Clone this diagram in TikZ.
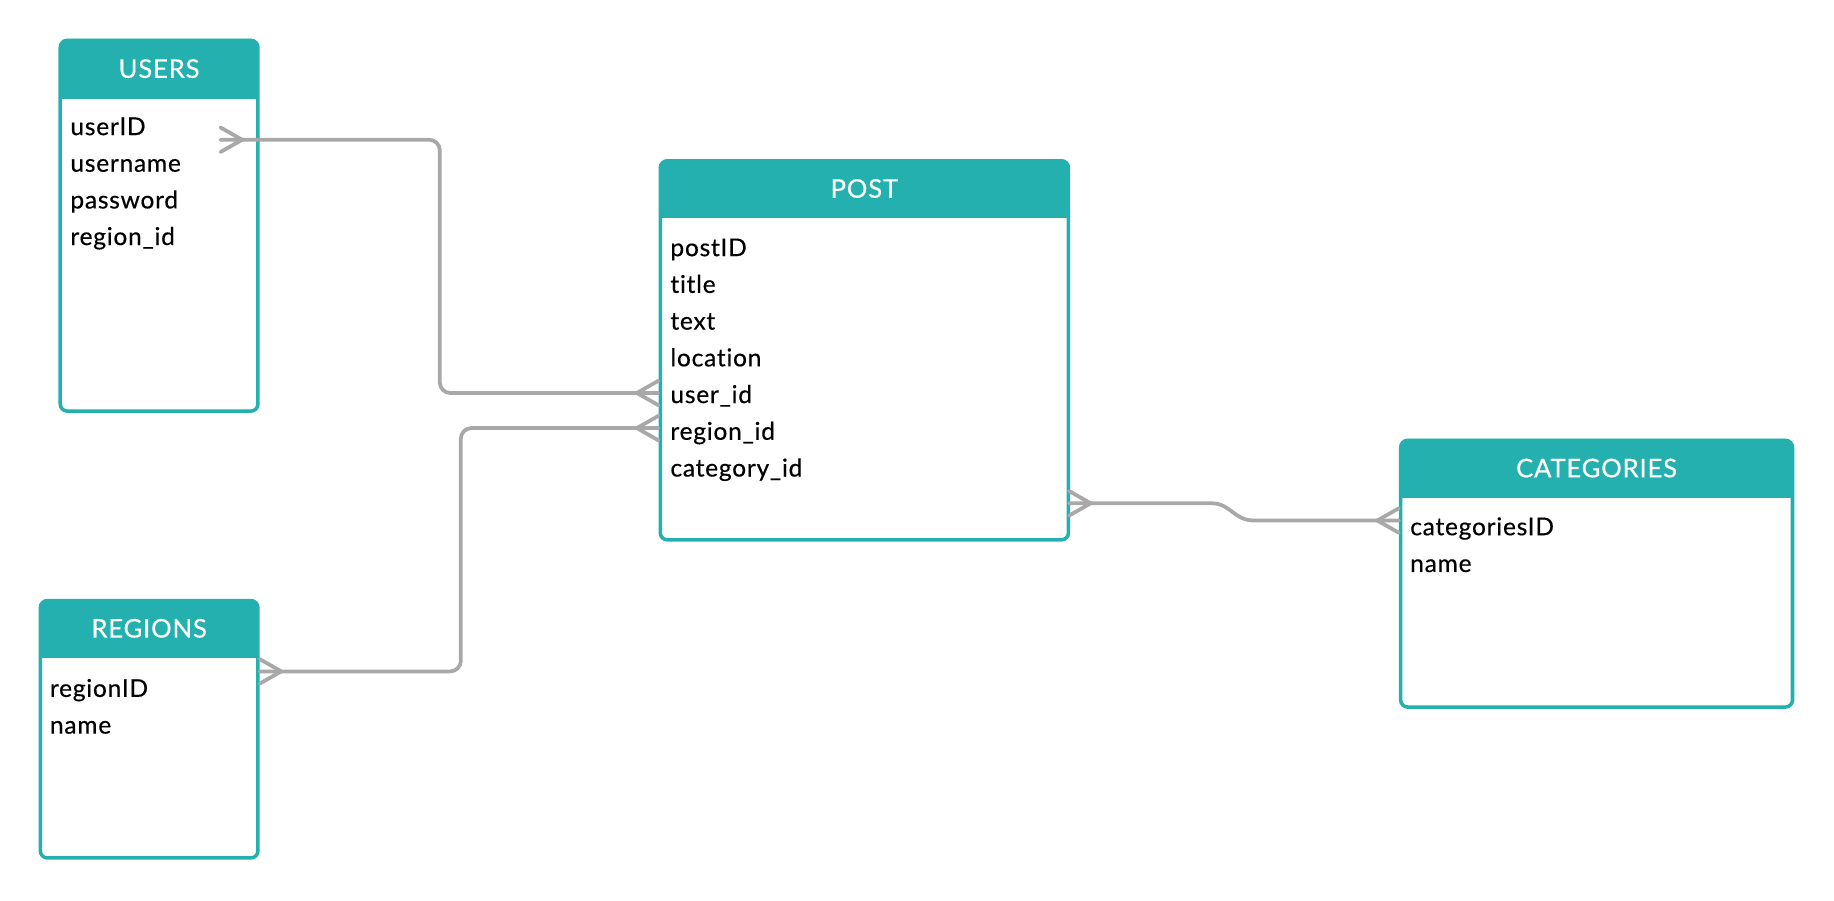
\documentclass[tikz,border=0pt]{standalone}
\usepackage{fontspec}
\setmainfont{Lato}[Ligatures=NoCommon, LetterSpace=3, FakeBold=0.4]
\definecolor{tealhead}{RGB}{35,176,175}
\definecolor{linkgray}{RGB}{168,168,168}
\tikzset{
  entity/.style={draw=tealhead, line width=3pt, fill=white, rounded corners=6pt, inner sep=0pt},
  entityhead/.style={fill=tealhead, rounded corners=6pt, inner sep=0pt, text=white,
    font=\fontsize{22pt}{26pt}\selectfont},
  attr/.style={anchor=base west, inner sep=0pt, text=black,
    font=\fontsize{21pt}{25pt}\selectfont},
  link/.style={draw=linkgray, line width=3.2pt, rounded corners=9pt, line cap=round, line join=round},
  crow/.pic={\draw[link, sharp corners] (0,-10.5) -- (18.5,0) -- (0,10.5);}
}
\begin{document}
\begin{tikzpicture}[x=1pt,y=-1pt]
\useasboundingbox (0,0) rectangle (1568,770);

% USERS
\node[entity, minimum width=169pt, minimum height=317pt] (users) at (136,193) {};
\node[entityhead, minimum width=169pt, minimum height=51pt, anchor=north] (users-h) at (users.north) {USERS};
\fill[tealhead] (users-h.south west) rectangle ([yshift=8pt]users-h.south east);
\node[attr] (users-id) at (60,115.5) {userID};
\node[attr] (users-name) at (60,146.8) {username};
\node[attr] (users-pw) at (60,178.2) {password};
\node[attr] (users-reg) at (60,209.5) {region\_id};

% POST
\node[entity, minimum width=349pt, minimum height=324pt] (post) at (739,299.5) {};
\node[entityhead, minimum width=349pt, minimum height=50pt, anchor=north] (post-h) at (post.north) {POST};
\fill[tealhead] (post-h.south west) rectangle ([yshift=8pt]post-h.south east);
\node[attr] (post-id) at (573,219) {postID};
\node[attr] (post-title) at (573,250.4) {title};
\node[attr] (post-text) at (573,281.8) {text};
\node[attr] (post-loc) at (573,313.2) {location};
\node[attr] (post-user) at (573,344.6) {user\_id};
\node[attr] (post-reg) at (573,376) {region\_id};
\node[attr] (post-cat) at (573,407.4) {category\_id};

% CATEGORIES
\node[entity, minimum width=335pt, minimum height=228pt] (cats) at (1365,490.5) {};
\node[entityhead, minimum width=335pt, minimum height=50pt, anchor=north] (cats-h) at (cats.north) {CATEGORIES};
\fill[tealhead] (cats-h.south west) rectangle ([yshift=8pt]cats-h.south east);
\node[attr] (cats-id) at (1205.5,457.6) {categoriesID};
\node[attr] (cats-name) at (1205.5,489) {name};

% REGIONS
\node[entity, minimum width=186pt, minimum height=220pt] (regions) at (127.5,623.5) {};
\node[entityhead, minimum width=186pt, minimum height=50pt, anchor=north] (regions-h) at (regions.north) {REGIONS};
\fill[tealhead] (regions-h.south west) rectangle ([yshift=8pt]regions-h.south east);
\node[attr] (regions-id) at (42.5,595.8) {regionID};
\node[attr] (regions-name) at (42.5,627.2) {name};

% relations
\coordinate (users-end) at (188.5,119.5);
\coordinate (post-uend) at (563,336);
\coordinate (regions-end) at (222,574);
\coordinate (post-rend) at (563,366);
\coordinate (post-cend) at (914,430.3);
\coordinate (cats-end) at (1196,445);

\draw[link] (users-end) -- (376,119.5) -- (376,336) -- (post-uend);
\draw[link] (regions-end) -- (394,574) -- (394,366) -- (post-rend);
\draw[link, sharp corners] (post-cend) -- (1036,430.3) .. controls (1052,430.3) and (1055,445) .. (1072,445) -- (cats-end);

\pic at (users-end) {crow};
\pic[rotate=180] at (post-uend) {crow};
\pic at (regions-end) {crow};
\pic[rotate=180] at (post-rend) {crow};
\pic at (post-cend) {crow};
\pic[rotate=180] at (cats-end) {crow};
\end{tikzpicture}
\end{document}
